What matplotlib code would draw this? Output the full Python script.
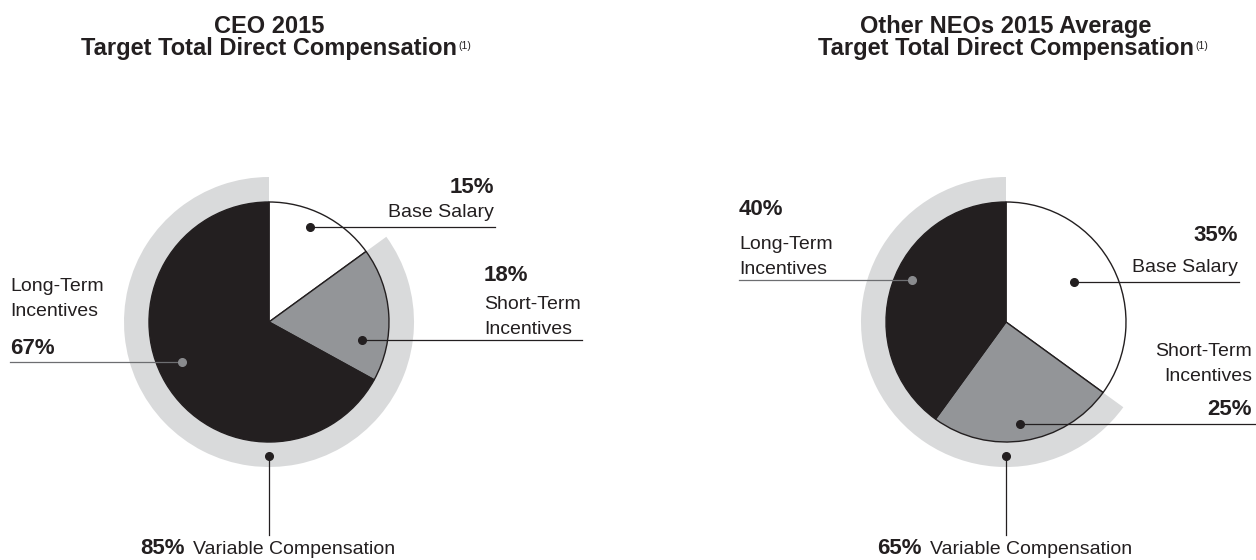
import matplotlib.pyplot as plt

W, H = 1256, 560

# data
components = ['Base Salary', 'Short-Term\nIncentives', 'Long-Term\nIncentives']
ceo_values = [15, 18, 67]
neo_values = [35, 25, 40]
titles = ['CEO 2015', 'Other NEOs 2015 Average']
subtitle = 'Target Total Direct Compensation'
footnote = '(1)'
variable_label = 'Variable Compensation'

slice_colors = ['white', '#939598', '#231f20']
ring_color = '#d9dadb'
ink = '#231f20'
soft = '#6d6e71'

plt.rcParams['font.family'] = ['Liberation Sans', 'DejaVu Sans']

# layout, in image pixels (y measured from the top)
charts = [
    dict(values=ceo_values, center=(269, 322),
         items=[
             # x, ha, order(pct first?), baselines, dot x, line x0, x1, line y, dot color
             dict(x=494, ha='right', pct_first=True, base=[193, 217], dot=310, lx=(310, 495), ly=227, dc=ink),
             dict(x=484, ha='left', pct_first=True, base=[281, 309, 334], dot=362, lx=(362, 582), ly=340, dc=ink),
             dict(x=10, ha='left', pct_first=False, base=[291, 316, 354], dot=182, lx=(10, 182), ly=362, dc='#8a8b8e'),
         ]),
    dict(values=neo_values, center=(1006, 322),
         items=[
             dict(x=1238, ha='right', pct_first=True, base=[241, 272], dot=1074, lx=(1074, 1239), ly=282, dc=ink),
             dict(x=1252, ha='right', pct_first=False, base=[356, 381, 415], dot=1020, lx=(1020, 1256), ly=424, dc=ink),
             dict(x=739, ha='left', pct_first=True, base=[215, 249, 274], dot=912, lx=(739, 912), ly=280, dc='#8a8b8e'),
         ]),
]

fig = plt.figure(figsize=(W / 100, H / 100), dpi=100)
ax = fig.add_axes([0, 0, 1, 1])

for title, chart in zip(titles, charts):
    vals = chart['values']
    cx, cy = chart['center']
    variable = sum(vals[1:])

    # outer ring for variable pay
    ax.pie([vals[0], variable], colors=['none', ring_color], startangle=90,
           counterclock=False, radius=145, center=(cx, H - cy),
           wedgeprops=dict(width=25, linewidth=0))
    # main pie
    ax.pie(vals, colors=slice_colors, startangle=90, counterclock=False,
           radius=120, center=(cx, H - cy),
           wedgeprops=dict(edgecolor=ink, linewidth=1))

    # titles
    ax.text(cx, H - 33, title, ha='center', va='baseline', fontsize=17,
            fontweight='bold', color=ink)
    t2 = ax.text(cx, H - 55, subtitle, ha='center', va='baseline', fontsize=17,
                 fontweight='bold', color=ink)
    ax.annotate(footnote, xy=(1, 1), xycoords=t2, xytext=(1, -3),
                textcoords='offset points', ha='left', va='top',
                fontsize=7.5, color=ink)

    # component labels
    for name, v, it in zip(components, vals, chart['items']):
        parts = name.split('\n')
        rows = [(f'{v}%', True)] + [(p, False) for p in parts]
        if not it['pct_first']:
            rows = rows[1:] + rows[:1]
        for (txt, bold), yb in zip(rows, it['base']):
            ax.text(it['x'], H - yb, txt, ha=it['ha'], va='baseline',
                    fontsize=16 if bold else 14,
                    fontweight='bold' if bold else 'normal', color=ink)
        lc = soft if it['dc'] != ink else ink
        ax.plot(it['lx'], [H - it['ly']] * 2, color=lc, lw=0.9, zorder=3)
        ax.plot(it['dot'], H - it['ly'], 'o', ms=5.5, color=it['dc'], zorder=4)

    # variable compensation pointer
    ax.plot([cx, cx], [H - 456, H - 535], color=ink, lw=0.9, zorder=3)
    ax.plot(cx, H - 456, 'o', ms=5.5, color=ink, zorder=4)
    ax.text(cx - 84, H - 554, f'{variable}%', ha='right', va='baseline',
            fontsize=16, fontweight='bold', color=ink)
    ax.text(cx - 76, H - 554, variable_label, ha='left', va='baseline',
            fontsize=14, color=ink)

ax.set_xlim(0, W)
ax.set_ylim(0, H)
ax.set_aspect('equal')
ax.axis('off')

fig.savefig('out.png', dpi=100, facecolor='white')
